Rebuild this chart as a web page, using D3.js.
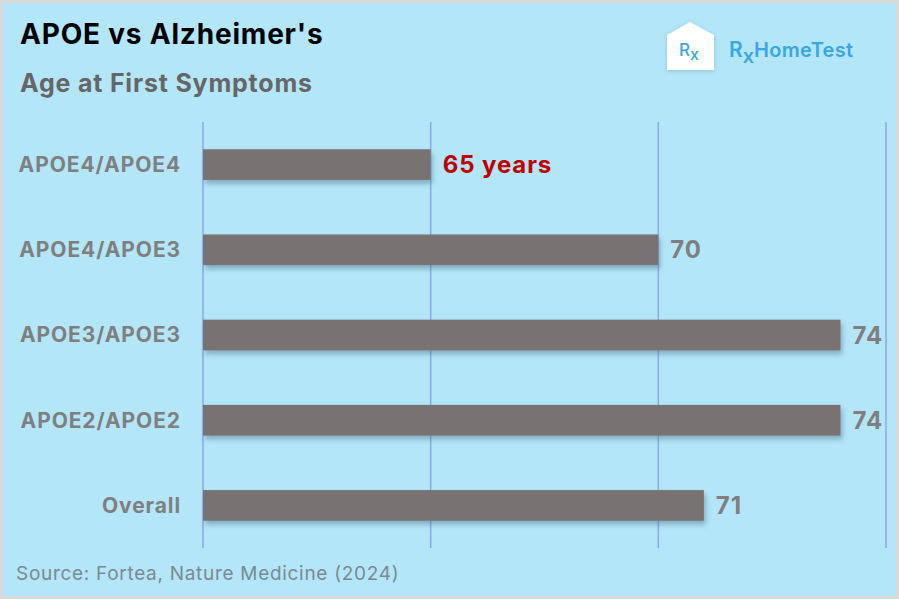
<!DOCTYPE html>
<html>
<head>
<meta charset="utf-8">
<script src="https://cdn.jsdelivr.net/npm/d3@7"></script>
<style>
  body { margin: 0; background: #d9d9d9; }
  svg { display: block; }
</style>
</head>
<body>
<svg id="chart"></svg>
<script>
// data
const categories = ["APOE4/APOE4", "APOE4/APOE3", "APOE3/APOE3", "APOE2/APOE2", "Overall"];
const ages = [65, 70, 74, 74, 71];
const valueLabels = ["65 years", "70", "74", "74", "71"];
const gridTicks = [60, 65, 70, 75];

const width = 899, height = 599;
const font = "Inter, 'Open Sans', sans-serif";

const svg = d3.select("#chart")
    .attr("width", width)
    .attr("height", height);

const defs = svg.append("defs");
const shadow = defs.append("filter").attr("id", "shadow")
    .attr("x", "-5%").attr("y", "-30%").attr("width", "115%").attr("height", "180%");
shadow.append("feDropShadow")
    .attr("dx", 2).attr("dy", 4).attr("stdDeviation", 2.5)
    .attr("flood-color", "#4a6a80").attr("flood-opacity", 0.45);

const logoShadow = defs.append("filter").attr("id", "logoShadow")
    .attr("x", "-30%").attr("y", "-30%").attr("width", "160%").attr("height", "160%");
logoShadow.append("feDropShadow")
    .attr("dx", 0).attr("dy", 1).attr("stdDeviation", 2)
    .attr("flood-color", "#5a8aa0").attr("flood-opacity", 0.4);

// background panel
svg.append("rect")
    .attr("x", 3).attr("y", 3)
    .attr("width", width - 6).attr("height", height - 6)
    .attr("fill", "#b3e6f8");

const x = d3.scaleLinear().domain([60, 75]).range([203, 886]);
const y = d3.scaleBand().domain(categories).range([122, 548]).paddingInner(0.64).paddingOuter(0.32);

// gridlines
svg.append("g")
    .selectAll("line")
    .data(gridTicks)
    .join("line")
    .attr("x1", d => x(d)).attr("x2", d => x(d))
    .attr("y1", 122).attr("y2", 548)
    .attr("stroke", "#8ea6ea")
    .attr("stroke-width", 1.5);

// bars
svg.append("g")
    .selectAll("rect")
    .data(categories)
    .join("rect")
    .attr("x", x(60))
    .attr("y", d => y(d))
    .attr("width", (d, i) => x(ages[i]) - x(60))
    .attr("height", y.bandwidth())
    .attr("fill", "#787272")
    .attr("filter", "url(#shadow)");

// category labels
svg.append("g")
    .selectAll("text")
    .data(categories)
    .join("text")
    .attr("x", 181)
    .attr("y", d => y(d) + y.bandwidth() / 2)
    .attr("dy", "0.35em")
    .attr("text-anchor", "end")
    .attr("font-family", font)
    .attr("font-weight", "bold")
    .attr("font-size", 21)
    .attr("letter-spacing", 0.9)
    .attr("fill", "#7f7f7f")
    .text(d => d);

// value labels
svg.append("g")
    .selectAll("text")
    .data(categories)
    .join("text")
    .attr("x", (d, i) => x(ages[i]) + 12)
    .attr("y", d => y(d) + y.bandwidth() / 2)
    .attr("dy", "0.36em")
    .attr("font-family", font)
    .attr("font-weight", "bold")
    .attr("font-size", 24)
    .attr("letter-spacing", 0.9)
    .attr("fill", (d, i) => i === 0 ? "#c00000" : "#7f7f7f")
    .text((d, i) => valueLabels[i]);

// titles
svg.append("text")
    .attr("x", 20).attr("y", 44)
    .attr("font-family", font)
    .attr("font-weight", "bold")
    .attr("font-size", 28)
    .attr("letter-spacing", 0.8)
    .attr("fill", "#000")
    .text("APOE vs Alzheimer's");

svg.append("text")
    .attr("x", 20).attr("y", 92)
    .attr("font-family", font)
    .attr("font-weight", "bold")
    .attr("font-size", 25)
    .attr("letter-spacing", 0.8)
    .attr("fill", "#666666")
    .text("Age at First Symptoms");

svg.append("text")
    .attr("x", 16).attr("y", 580)
    .attr("font-family", font)
    .attr("font-size", 19)
    .attr("letter-spacing", 0.7)
    .attr("fill", "#7a8a90")
    .text("Source: Fortea, Nature Medicine (2024)");

// logo
const logo = svg.append("g").attr("transform", "translate(667,22)");
logo.append("path")
    .attr("d", "M0,13 L23,0 L47,13 L47,48 L0,48 Z")
    .attr("fill", "#ffffff")
    .attr("filter", "url(#logoShadow)");
const lt = logo.append("text")
    .attr("x", 12).attr("y", 34)
    .attr("font-family", font)
    .attr("font-weight", 500)
    .attr("font-size", 17)
    .attr("fill", "#3ba7e0");
lt.append("tspan").text("R");
lt.append("tspan").attr("dy", 4).attr("font-size", 16).text("x");

const brand = svg.append("text")
    .attr("x", 729).attr("y", 57)
    .attr("font-family", font)
    .attr("font-weight", 600)
    .attr("font-size", 21)
    .attr("fill", "#3ba7e0");
brand.append("tspan").text("R");
brand.append("tspan").attr("dy", 6).attr("font-size", 20).text("x");
brand.append("tspan").attr("dy", -6).attr("font-size", 20).attr("letter-spacing", 0.3).text("HomeTest");
</script>
</body>
</html>
